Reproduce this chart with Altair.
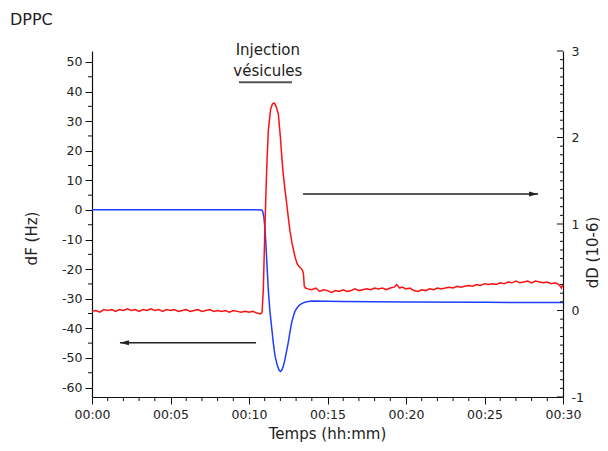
import altair as alt
import pandas as pd

# ---------------- data ----------------
# time in minutes
blue_t = [0.0, 5.0, 10.0, 10.8, 10.87, 10.95, 11.02, 11.1, 11.17, 11.23, 11.33, 11.45,
          11.55, 11.66, 11.8, 11.92, 12.0, 12.1, 12.2, 12.29, 12.4, 12.5, 12.61, 12.72,
          12.83, 12.93, 13.1, 13.25, 13.45, 13.68, 14.0, 16.0, 20.0, 25.0, 30.0]
blue_dF = [0.1, 0.1, 0.1, 0.0, -0.5, -2.5, -6.5, -14.0, -21.0, -27.0, -34.0, -40.0,
           -45.0, -49.4, -52.5, -54.2, -54.6, -54.0, -52.5, -50.5, -47.5, -44.8, -41.2, -38.0,
           -35.8, -34.2, -32.8, -32.0, -31.4, -31.0, -30.8, -30.9, -31.1, -31.2, -31.3]

red_t_pre = [0.0, 0.25, 0.5, 0.75, 1.0, 1.25, 1.5, 1.75, 2.0, 2.25, 2.5, 2.75, 3.0, 3.25,
             3.5, 3.75, 4.0, 4.25, 4.5, 4.75, 5.0, 5.25, 5.5, 5.75, 6.0, 6.25, 6.5, 6.75,
             7.0, 7.25, 7.5, 7.75, 8.0, 8.25, 8.5, 8.75, 9.0, 9.25, 9.5, 9.75, 10.0, 10.25,
             10.5, 10.75]
red_dD_pre = [-0.01, 0.00, -0.02, 0.01, 0.00, 0.01, -0.01, 0.01, 0.00, 0.02, 0.00, 0.01,
              -0.01, 0.01, 0.00, 0.02, 0.00, 0.01, -0.01, 0.01, 0.00, 0.01, -0.01, 0.00,
              0.01, -0.01, 0.00, 0.01, -0.01, 0.00, 0.01, -0.01, 0.00, -0.01, 0.00, -0.02,
              0.00, -0.01, -0.02, -0.01, -0.02, -0.01, -0.03, -0.04]

red_t_peak = [10.83, 10.91, 11.02, 11.13, 11.23, 11.38, 11.5, 11.61, 11.72, 11.87, 12.0,
              12.1, 12.18, 12.3, 12.4, 12.5, 12.61, 12.75, 12.93, 13.05, 13.14, 13.3, 13.42,
              13.47, 13.52, 13.6]
red_dD_peak = [-0.02, 0.23, 1.00, 1.65, 2.08, 2.33, 2.39, 2.40, 2.36, 2.27, 2.00,
               1.75, 1.58, 1.38, 1.24, 1.08, 0.92, 0.77, 0.62, 0.55, 0.52, 0.49, 0.46,
               0.42, 0.28, 0.26]

red_t_post = [13.75, 14.0, 14.25, 14.5, 14.75, 15.0, 15.25, 15.5, 15.75, 16.0, 16.25, 16.5,
              16.75, 17.0, 17.25, 17.5, 17.75, 18.0, 18.25, 18.5, 18.75, 19.0, 19.25, 19.4,
              19.6, 19.75, 20.0, 20.25, 20.5, 20.75, 21.0, 21.25, 21.5, 21.75, 22.0, 22.25,
              22.5, 22.75, 23.0, 23.25, 23.5, 23.75, 24.0, 24.25, 24.5, 24.75, 25.0, 25.25,
              25.5, 25.75, 26.0, 26.25, 26.5, 26.75, 27.0, 27.25, 27.5, 27.75, 28.0, 28.25,
              28.5, 28.75, 29.0, 29.25, 29.5, 29.75, 29.9, 30.0]
red_dD_post = [0.25, 0.24, 0.26, 0.22, 0.24, 0.23, 0.21, 0.23, 0.22, 0.24, 0.22, 0.23,
               0.25, 0.23, 0.24, 0.25, 0.24, 0.26, 0.25, 0.26, 0.24, 0.26, 0.27, 0.30,
               0.26, 0.27, 0.25, 0.26, 0.23, 0.22, 0.24, 0.23, 0.25, 0.24, 0.26, 0.25,
               0.26, 0.27, 0.26, 0.28, 0.27, 0.28, 0.29, 0.28, 0.30, 0.29, 0.31, 0.30,
               0.31, 0.30, 0.32, 0.31, 0.33, 0.32, 0.34, 0.32, 0.33, 0.34, 0.32, 0.34,
               0.33, 0.32, 0.33, 0.31, 0.32, 0.30, 0.26, 0.30]

# axis tick values
x_major = [0, 5, 10, 15, 20, 25, 30]
left_major = [50, 40, 30, 20, 10, 0, -10, -20, -30, -40, -50, -60]
right_major = [-1, 0, 1, 2, 3]

# annotations (in data coordinates)
arrow_left_t = [1.78, 10.45]
arrow_left_dF = [-44.9, -44.9]
arrow_right_t = [13.44, 28.41]
arrow_right_dF = [5.4, 5.4]
inj_line_t = [9.36, 12.74]
inj_line_dF = 43.1
inj_text_t = 11.2
inj_text_dF = [52.4, 45.4]
inj_text = ["Injection", "vésicules"]

# ---------------- build ----------------
FONT = "DejaVu Sans"
W, H = 471, 346
X_DOM = [0, 30]
L_DOM = [-63.2, 53.7]
R_DOM = [-1, 3]

blue = pd.DataFrame({"t": blue_t, "v": blue_dF})
red = pd.DataFrame({"t": red_t_pre + red_t_peak + red_t_post,
                    "v": red_dD_pre + red_dD_peak + red_dD_post})
red["o"] = range(len(red))

xs = alt.Scale(domain=X_DOM, nice=False, zero=False)
ls = alt.Scale(domain=L_DOM, nice=False, zero=False)
rs = alt.Scale(domain=R_DOM, nice=False, zero=False)

x_minor = [m for m in range(0, 31) if m % 5 != 0]
left_minor = [v for v in range(-55, 50, 10)]
right_minor = [round(-1 + 0.1 * i, 1) for i in range(41) if i % 10 != 0]


def X(field="t"):
    return alt.X(f"{field}:Q", scale=xs, axis=None)


def YL(field="v"):
    return alt.Y(f"{field}:Q", scale=ls, axis=None)


def YR(field="v"):
    return alt.Y(f"{field}:Q", scale=rs, axis=None)


blue_line = alt.Chart(blue).mark_line(color="#1f3cff", strokeWidth=1.5).encode(
    x=alt.X("t:Q", scale=xs, axis=alt.Axis(
        orient="bottom", values=x_major, title="Temps (hh:mm)",
        labelExpr="datum.value < 10 ? '00:0' + datum.value : '00:' + datum.value",
        labelFlush=False, labelOverlap=False,
        tickSize=7, labelPadding=4, titleX=235, titleY=41,
        titleAlign="center", titleBaseline="alphabetic")),
    y=alt.Y("v:Q", scale=ls, axis=alt.Axis(
        orient="left", values=left_major, title="dF (Hz)",
        labelExpr="'' + datum.value", tickSize=7, labelPadding=3,
        labelFlush=False, labelOverlap=False,
        titleAngle=270, titleX=-61, titleY=187,
        titleAlign="center", titleBaseline="middle")),
)

red_line = alt.Chart(red).mark_line(color="#ff1010", strokeWidth=1.5).encode(
    x=X(),
    y=alt.Y("v:Q", scale=rs, axis=alt.Axis(
        orient="right", values=right_major, title="dD (10-6)",
        labelExpr="'' + datum.value", ticks=False, labelPadding=8,
        labelFlush=False, labelOverlap=False,
        titleAngle=270, titleX=34, titleY=201,
        titleAlign="center", titleBaseline="alphabetic")),
    order="o:Q",
)

lminor = alt.Chart(pd.DataFrame({"v": left_minor})).mark_rule(color="#111", strokeWidth=1).encode(
    y=YL(), x=alt.value(-4), x2=alt.value(0))

xminor = alt.Chart(pd.DataFrame({"t": x_minor})).mark_rule(color="#111", strokeWidth=1).encode(
    x=X(), y=alt.value(H), y2=alt.value(H + 4))

rmajor = alt.Chart(pd.DataFrame({"v": right_major})).mark_rule(color="#111", strokeWidth=1).encode(
    y=YR(), x=alt.value(W - 6), x2=alt.value(W))
rminor = alt.Chart(pd.DataFrame({"v": right_minor})).mark_rule(color="#111", strokeWidth=1).encode(
    y=YR(), x=alt.value(W - 3), x2=alt.value(W))

arr_l = pd.DataFrame({"t": arrow_left_t, "v": arrow_left_dF})
arr_r = pd.DataFrame({"t": arrow_right_t, "v": arrow_right_dF})
arrow_l_line = alt.Chart(arr_l).mark_line(color="#222", strokeWidth=1.5).encode(x=X(), y=YL())
arrow_r_line = alt.Chart(arr_r).mark_line(color="#222", strokeWidth=1.5).encode(x=X(), y=YL())
arrow_l_head = alt.Chart(arr_l.iloc[[0]]).mark_point(
    shape="M 0 0 L 2 -0.55 L 2 0.55 Z", filled=True, color="#222", size=81, opacity=1).encode(
    x=X(), y=YL())
arrow_r_head = alt.Chart(arr_r.iloc[[1]]).mark_point(
    shape="M 0 0 L -2 -0.55 L -2 0.55 Z", filled=True, color="#222", size=81, opacity=1).encode(
    x=X(), y=YL())

inj_line = alt.Chart(pd.DataFrame({"t": inj_line_t, "v": [inj_line_dF] * 2})).mark_line(
    color="#555", strokeWidth=2).encode(x=X(), y=YL())
inj_txt = alt.Chart(pd.DataFrame({"t": [inj_text_t] * 2, "v": inj_text_dF, "s": inj_text})).mark_text(
    font=FONT, fontSize=15, color="#222", align="center", baseline="alphabetic").encode(
    x=X(), y=YL(), text="s:N")

title_txt = alt.Chart(pd.DataFrame({"s": ["DPPC"]})).mark_text(
    font=FONT, fontSize=16, color="#222", align="left", baseline="alphabetic").encode(
    x=alt.value(-82), y=alt.value(-26), text="s:N")

chart = alt.layer(
    blue_line, red_line, lminor, xminor, rmajor, rminor,
    arrow_l_line, arrow_r_line, arrow_l_head, arrow_r_head, inj_line, inj_txt, title_txt,
).resolve_scale(x="independent", y="independent").properties(
    width=W, height=H,
    autosize=alt.AutoSizeParams(type="none"),
    padding={"left": 84, "top": 43, "right": 37, "bottom": 46},
    background="white",
).configure_view(stroke=None).configure_axis(
    grid=False, domainColor="#111", domainWidth=1.2, tickColor="#111", tickWidth=1,
    labelFont=FONT, labelFontSize=12.5, labelColor="#222",
    titleFont=FONT, titleFontSize=15, titleFontWeight="normal", titleColor="#222",
)

chart.save("out.html", embed_options={"renderer": "svg", "actions": False})
